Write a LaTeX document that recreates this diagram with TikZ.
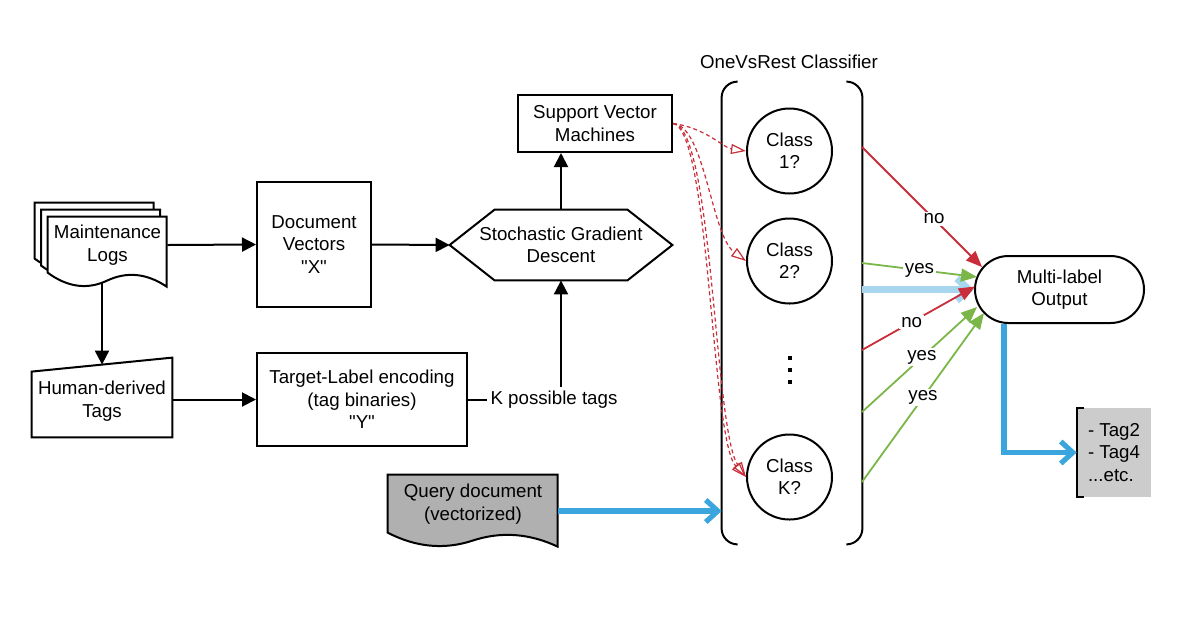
\documentclass[tikz,border=0pt]{standalone}
\usepackage{fontspec}
\newfontfamily\lsans{Liberation Sans}
\usepackage{tikz}
\usetikzlibrary{arrows.meta}
\usetikzlibrary{shapes.misc}
\usetikzlibrary{backgrounds}
\definecolor{nored}{HTML}{C92D39}
\definecolor{yesgreen}{HTML}{7AB648}
\definecolor{qblue}{HTML}{3AA6DD}
\definecolor{qlight}{HTML}{A8D6EE}
\definecolor{querygray}{HTML}{B0B0B0}
\definecolor{resgray}{HTML}{CCCCCC}
\newcommand\docshape[4][white]{\draw[shapeline,fill=#1] #2 -- ++(#3,0) -- ++(0,#4+14)
	.. controls +(-#3/6,-13.33) and +(#3/6,-9.33) .. ++(-#3/2,-6)
	.. controls +(-#3/6,9.33) and +(#3/6,14.67) .. ++(-#3/2,-8) -- cycle;}
\tikzset{
	plain/.style={align=center,inner sep=0pt},
	box/.style={draw,line width=1pt,align=center,inner sep=0pt},
	cls/.style={circle,draw,line width=1pt,align=center,inner sep=0pt,minimum size=42.5pt},
	pill/.style={rounded rectangle,draw,line width=1pt,align=center,inner sep=0pt},
	shapeline/.style={line width=1pt},
	arr/.style={line width=1pt,-{Triangle[length=7pt,width=7pt]}},
	svmlink/.style={nored,line width=0.6pt,dash pattern=on 2pt off 1.5pt,-{Triangle[open,length=7.5pt,width=5pt]}},
	nolink/.style={nored,line width=0.9pt,-{Triangle[length=8pt,width=6.5pt]}},
	yeslink/.style={yesgreen,line width=0.9pt,-{Triangle[length=8pt,width=6.5pt]}},
	qlink/.style={qblue,line width=2.6pt,-{Straight Barb[length=6pt,width=11pt]}},
	lbl/.style={fill=white,inner sep=1pt,text=black},
}

\begin{document}
\begin{tikzpicture}[x=0.5pt,y=-0.5pt,font=\lsans\fontsize{9.35}{11.2}\selectfont]
\useasboundingbox (0,0) rectangle (1183,623);

\node[plain,minimum width=59.5pt,minimum height=28pt] (logs) at (107.5,245) {Maintenance\\Logs};
\node[box,minimum width=57pt,minimum height=62.5pt] (docvec) at (314,244.5) {Document\\Vectors\\"X"};
\node[plain,minimum width=111pt,minimum height=35pt] (sgd) at (561,245) {Stochastic Gradient\\Descent};
\node[box,minimum width=77pt,minimum height=28.5pt] (svm) at (595,123.5) {Support Vector\\Machines};
\node[plain,minimum width=70pt,minimum height=36pt] (tags) at (102,401) {Human-derived\\Tags};
\node[box,minimum width=105pt,minimum height=46.5pt] (tle) at (362,399.5) {Target-Label encoding\\(tag binaries)\\"Y"};
\node[plain,minimum width=85pt,minimum height=29pt] (query) at (473,504) {Query document\\(vectorized)};

\node (title) at (789,62) {OneVsRest Classifier};
\node[minimum width=70pt,minimum height=231pt,inner sep=0pt] (ovr) at (792,313) {};
\node[cls] (c1) at (789.5,151) {Class\\1?};
\node[cls] (c2) at (789.5,261) {Class\\2?};
\node[cls] (ck) at (789.5,477) {Class\\K?};
\foreach \y in {358,370,382}
	\fill (788,\y-2) rectangle ++(4,4);

\node[pill,minimum width=84.5pt,minimum height=33.5pt] (out) at (1059.5,289.5) {Multi-label\\Output};
\node[fill=resgray,align=left,inner sep=0pt,minimum width=37pt,minimum height=44.5pt] (res) at (1114,452.5) {- Tag2\\- Tag4\\...etc.};

\begin{scope}[on background layer]
\docshape{([shift={(-13,-14)}]logs.north west)}{119}{56}
\docshape{([shift={(-6.5,-7)}]logs.north west)}{119}{56}
\docshape{(logs.north west)}{119}{56}
\docshape[querygray]{(query.north west)}{170}{58}
\end{scope}

\draw[shapeline] (sgd.west) -- ([xshift=22.5pt]sgd.north west) -- ([xshift=-22.5pt]sgd.north east)
	-- (sgd.east) -- ([xshift=-22.5pt]sgd.south east) -- ([xshift=22.5pt]sgd.south west) -- cycle;
\draw[shapeline] (tags.south west) -- (tags.south east) -- ([yshift=3.5pt]tags.north east)
	-- ([yshift=-3.5pt]tags.north west) -- cycle;
\draw[shapeline,rounded corners=8pt] ([xshift=8pt]ovr.north west) -- (ovr.north west) -- (ovr.south west) -- ([xshift=8pt]ovr.south west);
\draw[shapeline,rounded corners=8pt] ([xshift=-8pt]ovr.north east) -- (ovr.north east) -- (ovr.south east) -- ([xshift=-8pt]ovr.south east);
\draw[shapeline] ([xshift=3.5pt]res.north west) -- (res.north west) -- (res.south west) -- ([xshift=3.5pt]res.south west);

\draw[arr] (logs.east) -- (docvec.west);
\draw[arr] (docvec.east) -- (sgd.west);
\draw[arr] (sgd.north) -- (sgd.north |- svm.south);
\draw[arr] ([yshift=-4.5pt]tags.north |- logs.south) -- (tags.north);
\draw[arr] (tle.west -| tags.east) -- (tle.west);
\draw[arr] (tle.east) -| node[lbl,pos=0.5,xshift=-3.5pt,inner sep=2pt] {K possible tags} (sgd.south);

\draw[svmlink] (svm.east) .. controls +(32,4) and +(-22,-3) .. (c1.west);
\draw[svmlink] (svm.east) .. controls +(32,2) and +(-35,-26) .. (c2.west);
\draw[svmlink] (svm.east) .. controls +(37,6) and +(-35,-37) .. (ck.west);
\draw[svmlink] (svm.east) .. controls +(40,2) and +(-32,-47) .. (ck.west);

\coordinate (qa) at ([yshift=-3.5pt]query.east);
\draw[qlink] (qa) -- (qa -| ovr.west);

\coordinate (o1) at (862,147);
\coordinate (o2) at (862,263);
\coordinate (o3) at (862,350);
\coordinate (o4) at (862,412);
\coordinate (o5) at (862,482);
\draw[qlink,qlight,line width=3.5pt] (ovr.east |- out.west) -- (out.west);
\draw[nolink] (o1) -- node[lbl,pos=0.6] {no} ([shift={(8,-22.5)}]out.west);
\draw[yeslink] (o2) -- node[lbl,pos=0.5] {yes} ([shift={(3,-12.5)}]out.west);
\draw[nolink] (o3) -- node[lbl,pos=0.44] {no} ([shift={(1,-3)}]out.west);
\draw[yeslink] (o4) -- node[lbl,pos=0.52] {yes} ([shift={(3,17.5)}]out.west);
\draw[yeslink] (o5) -- node[lbl,pos=0.5] {yes} ([shift={(10,23.5)}]out.west);

\draw[qlink] ([xshift=-27.75pt]out.south) |- (res.west);
\end{tikzpicture}
\end{document}
